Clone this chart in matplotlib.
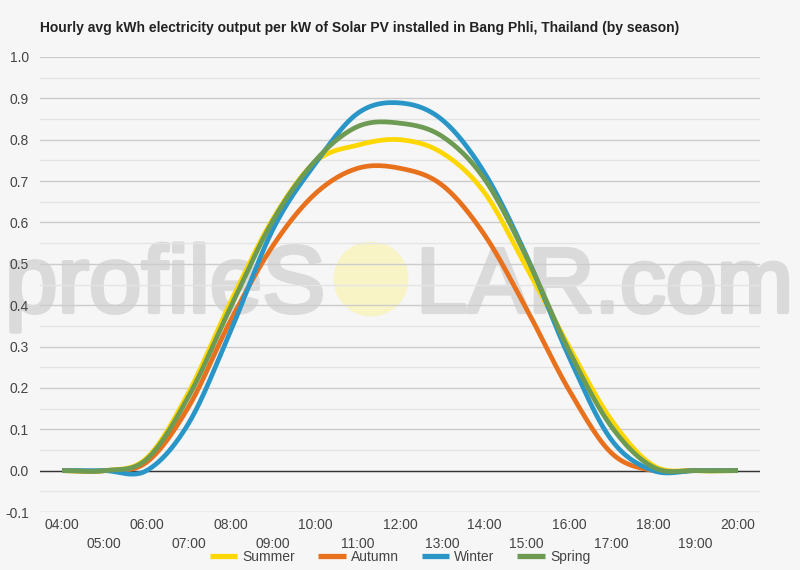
import numpy as np
import matplotlib
matplotlib.use('Agg')
import matplotlib.pyplot as plt
import matplotlib.patheffects as pe
from matplotlib.patches import Ellipse

plt.rcParams['font.family'] = ['Liberation Sans', 'DejaVu Sans']

# hourly averages, 04:00 .. 20:00
hours = list(range(4, 21))
hour_labels = ['%02d:00' % h for h in hours]
summer = [0, 0, 0.03, 0.19, 0.41, 0.61, 0.747, 0.787, 0.80, 0.768, 0.672, 0.49, 0.30, 0.123, 0.012, 0, 0]
autumn = [0, 0, 0.02, 0.155, 0.365, 0.545, 0.67, 0.731, 0.731, 0.69, 0.57, 0.39, 0.195, 0.043, 0, 0, 0]
winter = [0, 0, 0, 0.115, 0.34, 0.585, 0.743, 0.864, 0.889, 0.848, 0.72, 0.518, 0.275, 0.075, 0, 0, 0]
spring = [0, 0, 0.027, 0.18, 0.397, 0.606, 0.75, 0.832, 0.84, 0.808, 0.705, 0.515, 0.29, 0.107, 0.008, 0, 0]

series = [('Summer', summer, '#FFD700'),
          ('Autumn', autumn, '#E8711E'),
          ('Winter', winter, '#2A96C8'),
          ('Spring', spring, '#6E9B53')]


def smooth(x, y, n=25):
    # catmull-rom style curve through the points, like the original chart
    x = np.asarray(x, float)
    y = np.asarray(y, float)
    m = np.zeros_like(y)
    m[1:-1] = (y[2:] - y[:-2]) / 2
    m[0] = y[1] - y[0]
    m[-1] = y[-1] - y[-2]
    xs, ys = [], []
    for i in range(len(x) - 1):
        t = np.linspace(0, 1, n, endpoint=False)
        h00 = 2 * t**3 - 3 * t**2 + 1
        h10 = t**3 - 2 * t**2 + t
        h01 = -2 * t**3 + 3 * t**2
        h11 = t**3 - t**2
        xs.append(x[i] + t * (x[i + 1] - x[i]))
        ys.append(h00 * y[i] + h10 * m[i] + h01 * y[i + 1] + h11 * m[i + 1])
    xs.append([x[-1]])
    ys.append([y[-1]])
    return np.concatenate(xs), np.concatenate(ys)


bg = '#F6F6F6'
fig = plt.figure(figsize=(8, 5.7), dpi=100, facecolor=bg)
ax = fig.add_axes([0.05, 58 / 570, 0.9, 455 / 570], facecolor=bg)

ax.set_xlim(4 - 22 / 42.25, 20 + 22 / 42.25)
ax.set_ylim(-0.1, 1.0)

# grid: major every 0.1, faint minor every 0.05
for v in np.arange(-0.1, 1.001, 0.1):
    ax.axhline(v, color='#CCCCCC', lw=1, zorder=1)
for v in np.arange(-0.05, 1.0, 0.1):
    ax.axhline(v, color='#E4E4E4', lw=1, zorder=1)
ax.axhline(0, color='#333333', lw=1, zorder=2)

# watermark (under the grid lines)
wm = '#DADADA'
stroke = [pe.withStroke(linewidth=3, foreground=wm)]
ax.text(5 / 800, 1 - 312 / 570, 'profileS', transform=fig.transFigure,
        fontsize=68, color=wm, ha='left', va='baseline', zorder=0.5,
        path_effects=stroke)
ax.text(793 / 800, 1 - 312 / 570, 'LAR.com', transform=fig.transFigure,
        fontsize=66, color=wm, ha='right', va='baseline', zorder=0.5,
        path_effects=stroke)
ax.add_patch(Ellipse(((371 - 40) / 720, (512 - 279) / 455), 75 / 720, 75 / 455,
                     transform=ax.transAxes, color='#F8F4C6', lw=0, zorder=0.6))

for name, vals, col in series:
    xs, ys = smooth(hours, vals)
    ax.plot(xs, ys, color=col, lw=3.4, label=name, zorder=3,
            solid_capstyle='butt')

for s in ax.spines.values():
    s.set_visible(False)

ax.set_yticks(np.round(np.arange(-0.1, 1.001, 0.1), 1))
ax.set_yticklabels(['%.1f' % v for v in np.arange(-0.1, 1.001, 0.1)])
ax.tick_params(axis='y', length=0, pad=8, labelsize=10, labelcolor='#444444')

ax.set_xticks(hours)
ax.set_xticklabels([lab if i % 2 == 0 else '\n' + lab
                    for i, lab in enumerate(hour_labels)], linespacing=1.45)
ax.tick_params(axis='x', length=0, pad=4, labelsize=10, labelcolor='#444444')

fig.text(40 / 800, 1 - 28 / 570, 'Hourly avg kWh electricity output per kW of Solar PV '
         'installed in Bang Phli, Thailand (by season)', fontsize=10,
         fontweight='bold', color='#222222', ha='left', va='center')

leg = fig.legend(loc='center', bbox_to_anchor=(0.5, 1 - 557 / 570), ncol=4,
                 frameon=False, fontsize=10, handlelength=2.0, handletextpad=0.35,
                 columnspacing=1.65, labelcolor='#444444')
for h in leg.get_lines():
    h.set_linewidth(3.8)

fig.savefig('out.png', dpi=100, facecolor=bg)
